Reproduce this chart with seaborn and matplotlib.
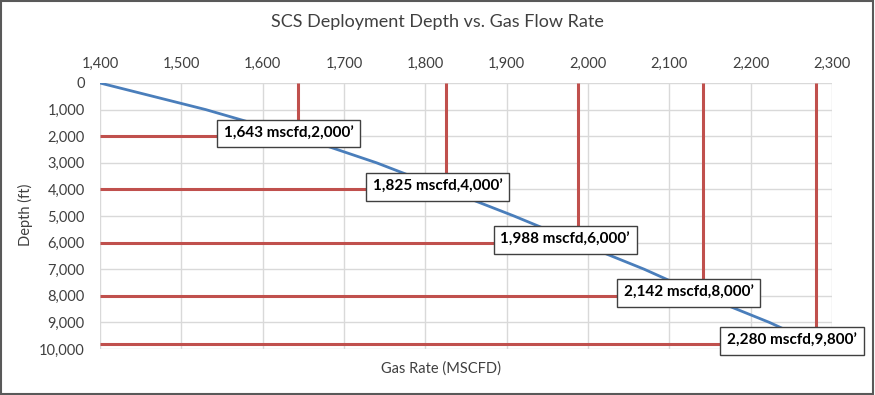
import matplotlib
matplotlib.use("Agg")
import matplotlib.pyplot as plt
import seaborn as sns
import numpy as np
from matplotlib.patches import Rectangle

# blue curve: gas rate (mscfd) vs deployment depth (ft)
curve_depth = [0, 1000, 2000, 3000, 4000, 5000, 6000, 7000, 8000, 9000, 9800]
curve_rate = [1400, 1530, 1643, 1740, 1825, 1909, 1988, 2069, 2142, 2223, 2280]

# marked deployment points
point_depth = [2000, 4000, 6000, 8000, 9800]
point_rate = [1643, 1825, 1988, 2142, 2280]

x_ticks = list(range(1400, 2301, 100))
y_ticks = list(range(0, 10001, 1000))

# horizontal nudge of each label box, in pixels
label_nudge = [-9, -8, -13, -15, -24]

sns.set_style("white")
plt.rcParams['font.family'] = ['Lato', 'DejaVu Sans']

fig = plt.figure(figsize=(8.75, 3.95), dpi=100)
ax = fig.add_axes([100 / 875, 1 - 349 / 395, 732 / 875, 266 / 395])

red = '#c0504d'
blue = '#4a7ebb'

sns.lineplot(x=curve_rate, y=curve_depth, sort=False, estimator=None,
             color=blue, lw=2, ax=ax, zorder=3)

ax.vlines(point_rate, 0, point_depth, color=red, lw=2.2, zorder=2)
ax.hlines(point_depth, x_ticks[0], point_rate, color=red, lw=2.2, zorder=2)

for r, d, dx in zip(point_rate, point_depth, label_nudge):
    ax.annotate(f"{r:,} mscfd,{d:,}\u2019", xy=(r, d),
                xytext=(dx * 0.72, 2), textcoords='offset points',
                ha='center', va='center', fontsize=11, fontweight='bold',
                color='black', zorder=5, annotation_clip=False,
                bbox=dict(boxstyle='square,pad=0.45', fc='white',
                          ec='#404040', lw=1))

ax.set_xlim(x_ticks[0], x_ticks[-1])
ax.set_ylim(y_ticks[-1], y_ticks[0])
ax.set_xticks(x_ticks)
ax.set_yticks(y_ticks)
ax.set_xticklabels([f"{v:,}" for v in x_ticks])
ax.set_yticklabels([f"{v:,}" for v in y_ticks])
ax.xaxis.tick_top()
ax.tick_params(axis='x', length=0, pad=9, labelsize=10.5, labelcolor='#404040')
ax.tick_params(axis='y', length=0, pad=11, labelsize=10.5, labelcolor='#404040')
ax.grid(True, color='#d9d9d9', lw=1)
ax.set_axisbelow(True)
for s in ax.spines.values():
    s.set_visible(False)
ax.set_xlabel('')
ax.set_ylabel('')

fig.text(437 / 875, 1 - 22 / 395, 'SCS Deployment Depth vs. Gas Flow Rate',
         ha='center', va='center', fontsize=13, color='#404040')
fig.text(441 / 875, 1 - 369 / 395, 'Gas Rate (MSCFD)',
         ha='center', va='center', fontsize=10.5, color='#404040')
fig.text(25 / 875, 1 - 215 / 395, 'Depth (ft)', rotation=90,
         ha='center', va='center', fontsize=10.5, color='#404040')

fig.patches.append(Rectangle((0.001, 0.002), 0.997, 0.995, transform=fig.transFigure,
                             fill=False, ec='#595959', lw=1.5))

fig.savefig('out.png', dpi=100)
